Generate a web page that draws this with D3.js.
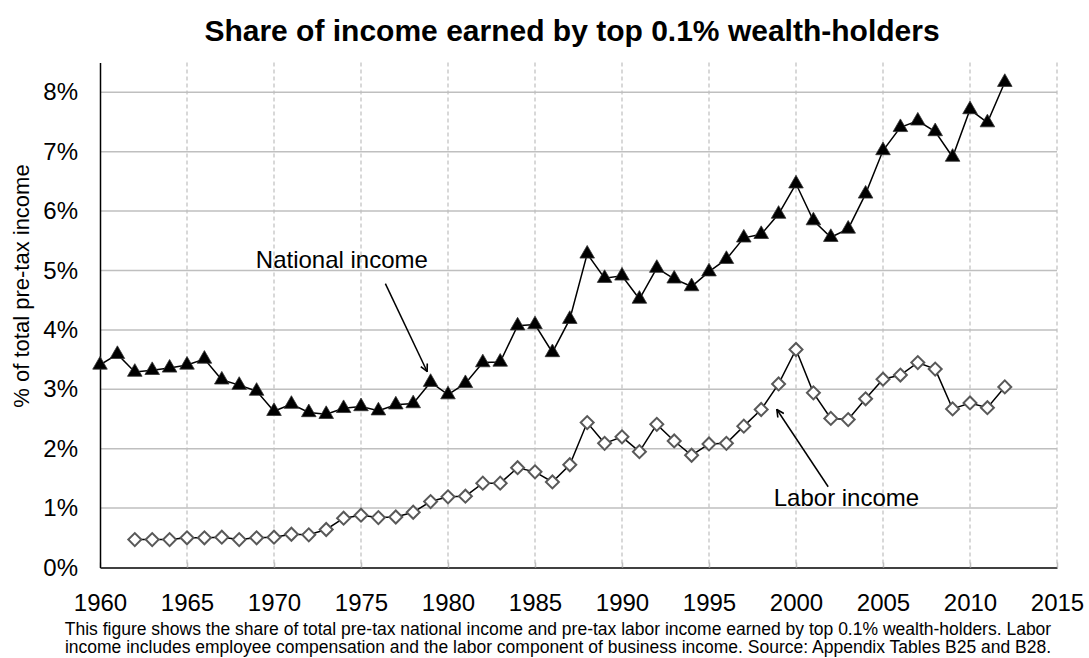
<!DOCTYPE html>
<html>
<head>
<meta charset="utf-8">
<script src="https://cdn.jsdelivr.net/npm/d3@7"></script>
<style>
  body { margin: 0; background: #fff; }
  svg { display: block; font-family: "Liberation Sans", Arial, sans-serif; }
</style>
</head>
<body>
<div id="chart"></div>
<script>
// data
const nationalYears = d3.range(1960, 2013);
const nationalIncome = [
  3.41, 3.59, 3.29, 3.32, 3.36, 3.41, 3.51, 3.16, 3.07, 2.97,
  2.63, 2.75, 2.61, 2.58, 2.68, 2.71, 2.64, 2.74, 2.76, 3.12,
  2.91, 3.10, 3.45, 3.46, 4.07, 4.09, 3.62, 4.18, 5.28, 4.87,
  4.91, 4.52, 5.04, 4.86, 4.73, 4.98, 5.19, 5.55, 5.61, 5.95,
  6.46, 5.84, 5.56, 5.70, 6.29, 7.02, 7.41, 7.52, 7.34, 6.91,
  7.71, 7.49, 8.17
];
const laborYears = d3.range(1962, 2013);
const laborIncome = [
  0.47, 0.47, 0.47, 0.50, 0.50, 0.51, 0.47, 0.50,
  0.51, 0.56, 0.55, 0.64, 0.83, 0.88, 0.84, 0.85, 0.93, 1.11,
  1.19, 1.20, 1.42, 1.42, 1.68, 1.61, 1.44, 1.73, 2.44, 2.09,
  2.20, 1.95, 2.41, 2.13, 1.89, 2.08, 2.09, 2.38, 2.66, 3.09,
  3.67, 2.94, 2.51, 2.49, 2.84, 3.17, 3.24, 3.45, 3.34, 2.67,
  2.77, 2.69, 3.04
];
const xTicks = d3.range(1960, 2016, 5);
const yTicks = [0, 1, 2, 3, 4, 5, 6, 7, 8];
const titleText = "Share of income earned by top 0.1% wealth-holders";
const yLabel = "% of total pre-tax income";
const captionLines = [
  "This figure shows the share of total pre-tax national income and pre-tax labor income earned by top 0.1% wealth-holders. Labor",
  "income includes employee compensation and the labor component of business income. Source: Appendix Tables B25 and B28."
];
// annotation text + arrow, in data units [year, percent]
const notes = [
  { label: "National income", text: [1973.9, 5.04], from: [1976.4, 4.78], to: [1978.8, 3.30] },
  { label: "Labor income", text: [2002.9, 1.04], from: [2001.85, 1.36], to: [1998.9, 2.66] }
];

const width = 1089, height = 658;
const margin = {top: 62.6, right: 32, bottom: 90.5, left: 100};

const svg = d3.select("#chart").append("svg")
  .attr("width", width)
  .attr("height", height);

const x = d3.scaleLinear().domain([1960, 2015]).range([margin.left, width - margin.right]);
const y = d3.scaleLinear().domain([0, 8.5]).range([height - margin.bottom, margin.top]);

// title
svg.append("text")
  .attr("x", 572).attr("y", 41)
  .attr("text-anchor", "middle")
  .attr("font-size", 30).attr("font-weight", "bold")
  .text(titleText);

// horizontal grid
svg.append("g")
  .selectAll("line")
  .data(yTicks.filter(d => d > 0))
  .join("line")
  .attr("x1", x(1960)).attr("x2", x(2015))
  .attr("y1", d => y(d)).attr("y2", d => y(d))
  .attr("stroke", "#bfbfbf").attr("stroke-width", 1.5);

// vertical dashed grid
svg.append("g")
  .selectAll("line")
  .data(xTicks.filter(d => d > 1960))
  .join("line")
  .attr("x1", d => x(d)).attr("x2", d => x(d))
  .attr("y1", y(8.5)).attr("y2", y(0))
  .attr("stroke", "#bfbfbf").attr("stroke-width", 1.2)
  .attr("stroke-dasharray", "4,3");

// x axis
const xAxis = d3.axisBottom(x)
  .tickValues(xTicks)
  .tickFormat(d3.format("d"))
  .tickSizeInner(-5).tickSizeOuter(0)
  .tickPadding(26);
const gx = svg.append("g")
  .attr("transform", "translate(0," + y(0) + ")")
  .call(xAxis);
gx.select(".domain").attr("stroke", "#404040").attr("stroke-width", 2);
gx.selectAll(".tick line").attr("stroke", "#bfbfbf").attr("stroke-width", 1.5);
gx.selectAll(".tick text")
  .attr("font-size", 24).attr("font-family", "Liberation Sans, Arial, sans-serif")
  .attr("fill", "#000");

// y axis
const yAxis = d3.axisLeft(y)
  .tickValues(yTicks)
  .tickFormat(d => d + "%")
  .tickSize(0)
  .tickPadding(22);
const gy = svg.append("g")
  .attr("transform", "translate(" + x(1960) + ",0)")
  .call(yAxis);
gy.select(".domain").attr("stroke", "#000").attr("stroke-width", 1.5);
gy.selectAll(".tick text")
  .attr("font-size", 24).attr("font-family", "Liberation Sans, Arial, sans-serif")
  .attr("fill", "#000");

// y axis title
svg.append("text")
  .attr("transform", "translate(29," + 286 + ") rotate(-90)")
  .attr("text-anchor", "middle")
  .attr("font-size", 22)
  .text(yLabel);

// lines
const line = d3.line().x(d => x(d[0])).y(d => y(d[1]));
const national = nationalYears.map((yr, i) => [yr, nationalIncome[i]]);
const labor = laborYears.map((yr, i) => [yr, laborIncome[i]]);

svg.append("path").datum(labor)
  .attr("fill", "none").attr("stroke", "#000").attr("stroke-width", 1.5)
  .attr("d", line);
svg.append("path").datum(national)
  .attr("fill", "none").attr("stroke", "#000").attr("stroke-width", 1.5)
  .attr("d", line);

// markers
const diamond = d3.symbol().type(d3.symbolSquare).size(84);
svg.append("g")
  .selectAll("path")
  .data(labor)
  .join("path")
  .attr("d", diamond)
  .attr("transform", d => "translate(" + x(d[0]) + "," + y(d[1]) + ") rotate(45)")
  .attr("fill", "#fff").attr("stroke", "#595959").attr("stroke-width", 2);

const tri = d3.symbol().type(d3.symbolTriangle).size(92);
svg.append("g")
  .selectAll("path")
  .data(national)
  .join("path")
  .attr("d", tri)
  .attr("transform", d => "translate(" + x(d[0]) + "," + y(d[1]) + ")")
  .attr("fill", "#000").attr("stroke", "#333").attr("stroke-width", 0.8);

// annotations
svg.append("defs").append("marker")
  .attr("id", "arrow")
  .attr("viewBox", "0 0 10 10")
  .attr("refX", 9).attr("refY", 5)
  .attr("markerWidth", 9).attr("markerHeight", 9)
  .attr("markerUnits", "userSpaceOnUse")
  .attr("orient", "auto")
  .append("path")
  .attr("d", "M1,1 L9,5 L1,9")
  .attr("fill", "none").attr("stroke", "#000").attr("stroke-width", 1.8);

const note = svg.append("g").selectAll("g").data(notes).join("g");
note.append("line")
  .attr("x1", d => x(d.from[0])).attr("y1", d => y(d.from[1]))
  .attr("x2", d => x(d.to[0])).attr("y2", d => y(d.to[1]))
  .attr("stroke", "#000").attr("stroke-width", 1.5)
  .attr("marker-end", "url(#arrow)");
note.append("text")
  .attr("x", d => x(d.text[0])).attr("y", d => y(d.text[1]))
  .attr("text-anchor", "middle")
  .attr("font-size", 24)
  .text(d => d.label);

// caption
svg.append("g")
  .selectAll("text")
  .data(captionLines)
  .join("text")
  .attr("x", 558)
  .attr("y", (d, i) => 635 + i * 18)
  .attr("text-anchor", "middle")
  .attr("font-size", 17.5)
  .text(d => d);
</script>
</body>
</html>
